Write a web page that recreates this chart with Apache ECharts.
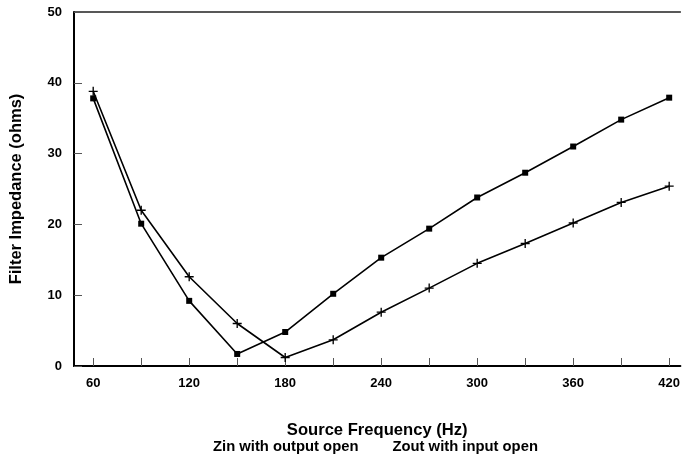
<!DOCTYPE html>
<html>
<head>
<meta charset="utf-8">
<script src="https://cdn.jsdelivr.net/npm/echarts@6/dist/echarts.min.js"></script>
<style>html,body{margin:0;padding:0;background:#fff}#c{width:683px;height:455px}</style>
</head>
<body>
<div id="c"></div>
<script>
const freqs = [60, 90, 120, 150, 180, 210, 240, 270, 300, 330, 360, 390, 420];
const zin = [37.8, 20.1, 9.2, 1.7, 4.8, 10.2, 15.3, 19.4, 23.8, 27.3, 31.0, 34.8, 37.9];
const zout = [38.8, 22.0, 12.6, 6.0, 1.2, 3.7, 7.6, 11.0, 14.5, 17.3, 20.2, 23.1, 25.4];
const xTickValues = [60, 90, 120, 150, 180, 210, 240, 270, 300, 330, 360, 390, 420];
const xLabelValues = [60, 120, 180, 240, 300, 360, 420];
const names = ['Zin with output open', 'Zout with input open'];

const plus = 'path://M4,0h1.4v4h4v1.4h-4v4h-1.4v-4h-4v-1.4h4z';
const font = 'Liberation Sans, Arial, sans-serif';

const chart = echarts.init(document.getElementById('c'), null, {renderer: 'canvas'});
chart.setOption({
  animation: false,
  backgroundColor: '#fff',
  textStyle: {fontFamily: font},
  grid: {left: 72.5, top: 12, right: 0, bottom: 89, containLabel: false},
  legend: {
    data: names,
    left: 203, top: 434,
    itemWidth: 0, itemHeight: 0, itemGap: 29,
    icon: 'rect',
    textStyle: {fontWeight: 'bold', fontSize: 14.8, color: '#000', fontFamily: font}
  },
  xAxis: [{
    type: 'value', min: 48, max: 427,
    name: 'Source Frequency (Hz)', nameLocation: 'middle', nameGap: 56,
    nameTextStyle: {fontWeight: 'bold', fontSize: 16.6, color: '#000', fontFamily: font},
    axisLine: {lineStyle: {color: '#000', width: 2}},
    axisTick: {show: true, inside: true, length: 8, customValues: xTickValues, lineStyle: {color: '#555', width: 1}},
    axisLabel: {customValues: xLabelValues, fontWeight: 'bold', fontSize: 13, color: '#000', margin: 11},
    splitLine: {show: false}
  }, {
    type: 'value', min: 48, max: 427, position: 'top',
    axisLine: {show: true, lineStyle: {color: '#222', width: 1.5}},
    axisTick: {show: false}, axisLabel: {show: false}, splitLine: {show: false}
  }],
  yAxis: {
    type: 'value', min: 0, max: 50, interval: 10,
    name: 'Filter Impedance (ohms)', nameLocation: 'middle', nameGap: 49,
    nameTextStyle: {fontWeight: 'bold', fontSize: 16.5, color: '#000', fontFamily: font},
    axisLine: {show: true, lineStyle: {color: '#000', width: 2}},
    axisTick: {show: true, inside: true, length: 8, lineStyle: {color: '#555', width: 1}},
    axisLabel: {fontWeight: 'bold', fontSize: 13, color: '#000', margin: 12},
    splitLine: {show: false}
  },
  series: [{
    name: names[0], type: 'line',
    data: freqs.map((f, i) => [f, zin[i]]),
    symbol: 'rect', symbolSize: 6,
    itemStyle: {color: '#000'},
    lineStyle: {color: '#000', width: 1.6}
  }, {
    name: names[1], type: 'line',
    data: freqs.map((f, i) => [f, zout[i]]),
    symbol: plus, symbolSize: 9,
    itemStyle: {color: '#000'},
    lineStyle: {color: '#000', width: 1.6}
  }]
});
</script>
</body>
</html>
